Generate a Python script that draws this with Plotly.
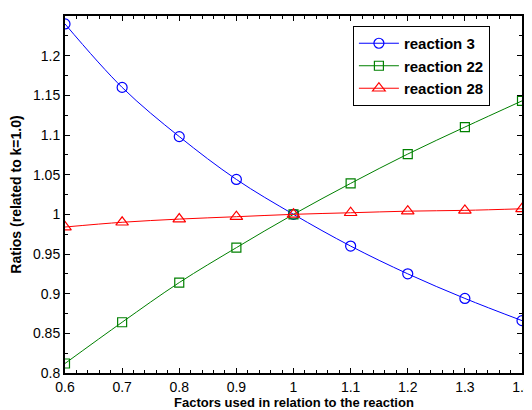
import plotly.graph_objects as go

factors = [0.6, 0.7, 0.8, 0.9, 1.0, 1.1, 1.2, 1.3, 1.4]
reaction_3 = [1.240, 1.160, 1.098, 1.044, 1.000, 0.960, 0.925, 0.894, 0.866]
reaction_22 = [0.812, 0.864, 0.914, 0.958, 1.000, 1.039, 1.076, 1.110, 1.143]
reaction_28 = [0.984, 0.990, 0.994, 0.997, 1.000, 1.002, 1.004, 1.005, 1.007]
names = ["reaction 3", "reaction 22", "reaction 28"]

FONT = "Liberation Sans, Arial, sans-serif"

fig = go.Figure()
styles = [
    (reaction_3, "#0000ff", "circle-open", 10),
    (reaction_22, "#008000", "square-open", 9),
    (reaction_28, "#ff0000", "triangle-up-open", 11),
]
for name, (vals, col, sym, sz) in zip(names, styles):
    fig.add_trace(go.Scatter(
        x=factors, y=vals, name=name, mode="lines+markers",
        line=dict(color=col, width=1, shape="spline"),
        marker=dict(symbol=sym, size=sz, color=col, line=dict(color=col, width=1.2)),
    ))

axis_common = dict(
    showline=True, linecolor="black", linewidth=2, mirror="ticks",
    ticks="inside", tickcolor="black", tickwidth=1, ticklen=5,
    showgrid=False, zeroline=False, automargin=False,
    tickfont=dict(family=FONT, size=14, color="black"),
)
fig.update_xaxes(
    range=[0.6, 1.4], tickvals=factors,
    ticktext=["0.6", "0.7", "0.8", "0.9", "1", "1.1", "1.2", "1.3", "1.4"],
    minor=dict(dtick=0.02, ticks="inside", ticklen=3, tickcolor="black", tickwidth=1, showgrid=False),
    **axis_common,
)
fig.update_yaxes(
    range=[0.8, 1.25],
    tickvals=[0.8, 0.85, 0.9, 0.95, 1.0, 1.05, 1.1, 1.15, 1.2, 1.25],
    ticktext=["0.8", "0.85", "0.9", "0.95", "1", "1.05", "1.1", "1.15", "1.2", "1.25"],
    minor=dict(dtick=0.025, tick0=0.8, ticks="inside", ticklen=3, tickcolor="black", tickwidth=1, showgrid=False),
    title=dict(text="<b>Ratios (related to k=1.0)</b>",
               font=dict(family=FONT, size=14, color="black"), standoff=8),
    **axis_common,
)
fig.add_annotation(
    text="<b>Factors used in relation to the reaction</b>",
    xref="paper", yref="paper", x=0.5, y=-0.1036, xanchor="center", yanchor="bottom",
    showarrow=False, borderpad=0, yshift=-1,
    font=dict(family=FONT, size=13, color="black"),
)
fig.update_layout(
    width=524, height=402,
    margin=dict(l=57, r=10, t=8, b=37),
    paper_bgcolor="white", plot_bgcolor="white",
    font=dict(family=FONT, size=14, color="black"),
    legend=dict(
        x=0.63, y=0.972, xanchor="left", yanchor="top",
        bgcolor="white", bordercolor="black", borderwidth=1,
        font=dict(family=FONT, size=15, color="black", weight="bold"),
        tracegroupgap=0, itemwidth=40,
    ),
    showlegend=True,
)
fig.write_html("out.html")
